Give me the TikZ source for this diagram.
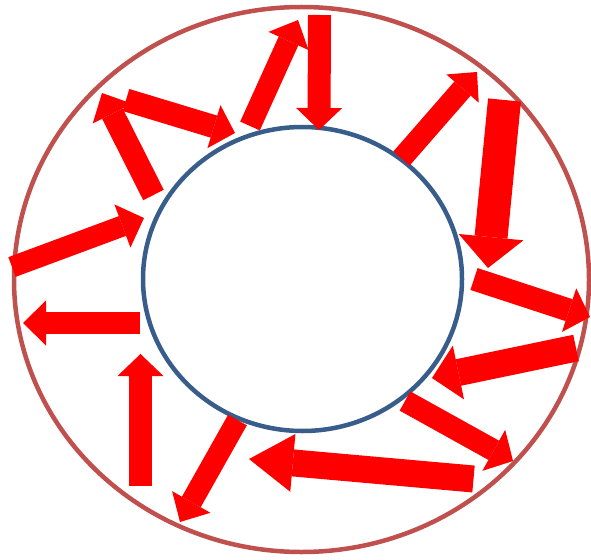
\documentclass[tikz,border=0pt]{standalone}
\usetikzlibrary{arrows.meta,shapes.geometric}
\definecolor{arrowred}{HTML}{FF0000}
\definecolor{outerring}{HTML}{C0504D}
\definecolor{innerring}{HTML}{385D8A}
\tikzset{
  ring/.style={draw=#1, line width=4.5pt, ellipse, inner sep=0pt, outer sep=0pt},
  blk/.style n args={3}{draw=arrowred, line width=#1, line cap=butt,
     -{Triangle[length=#3, width=#2, line width=0pt]}}
}
\begin{document}
\begin{tikzpicture}[x=1pt,y=-1pt]
\useasboundingbox (0,0) rectangle (591,559);
\fill[white] (0,0) rectangle (591,559);
\node[ring=outerring, minimum width=575pt, minimum height=545pt] (outer) at (301.5,279.5) {};
\node[ring=innerring, minimum width=319pt, minimum height=304pt] (inner) at (302.5,279) {};
% arrow end points
\coordinate (a1s) at (12,267);    \coordinate (a1e) at (144,218);
\coordinate (a2s) at (153.5,195); \coordinate (a2e) at (102,93);
\coordinate (a3s) at (126,100);   \coordinate (a3e) at (235,133);
\coordinate (a4s) at (250,126);   \coordinate (a4e) at (298,20);
\coordinate (a5s) at (319.5,15);  \coordinate (a5e) at (319,130);
\coordinate (a6s) at (401.5,158.5); \coordinate (a6e) at (477,72);
\coordinate (a7s) at (504.5,100); \coordinate (a7e) at (488,268);
\coordinate (a8s) at (474,279);   \coordinate (a8e) at (590,317);
\coordinate (a9s) at (576,348);   \coordinate (a9e) at (432,378);
\coordinate (a10s) at (405,401);  \coordinate (a10e) at (513,461);
\coordinate (a11s) at (473.5,479); \coordinate (a11e) at (249,459);
\coordinate (a12s) at (237.5,420); \coordinate (a12e) at (180,522);
\coordinate (a13s) at (140.5,486); \coordinate (a13e) at (140.5,354);
\coordinate (a14s) at (140,323);  \coordinate (a14e) at (23,323);
% arrows
\draw[blk={21pt}{46pt}{23pt}] (a1s) -- (a1e);
\draw[blk={23pt}{44pt}{23pt}] (a2s) -- (a2e);
\draw[blk={23pt}{45pt}{22pt}] (a3s) -- (a3e);
\draw[blk={21.5pt}{44pt}{23pt}] (a4s) -- (a4e);
\draw[blk={23pt}{46pt}{22pt}] (a5s) -- (a5e);
\draw[blk={21.5pt}{43pt}{22pt}] (a6s) -- (a6e);
\draw[blk={33pt}{65pt}{31pt}] (a7s) -- (a7e);
\draw[blk={23pt}{46pt}{22pt}] (a8s) -- (a8e);
\draw[blk={27pt}{55pt}{27pt}] (a9s) -- (a9e);
\draw[blk={22pt}{47pt}{22pt}] (a10s) -- (a10e);
\draw[blk={27pt}{58pt}{44pt}] (a11s) -- (a11e);
\draw[blk={21.5pt}{44pt}{23pt}] (a12s) -- (a12e);
\draw[blk={23pt}{46pt}{22pt}] (a13s) -- (a13e);
\draw[blk={22pt}{45pt}{23pt}] (a14s) -- (a14e);
\end{tikzpicture}
\end{document}
